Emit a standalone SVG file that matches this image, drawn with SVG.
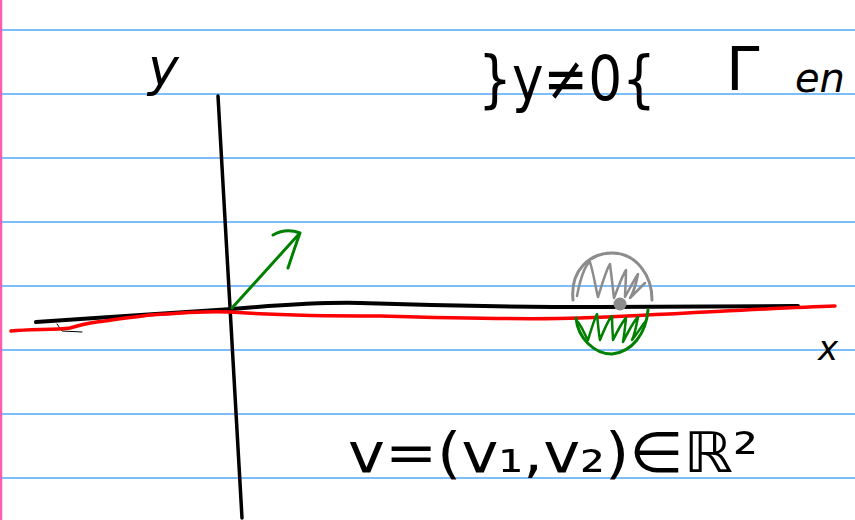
<svg xmlns="http://www.w3.org/2000/svg" width="855" height="520" viewBox="0 0 855 520">
<style>
.rule{stroke:#4fa8f7;stroke-width:1.5}
.ink{fill:none;stroke-linecap:round;stroke-linejoin:round}
.hw{font-family:"DejaVu Sans",sans-serif;fill:#000}
</style>
<rect width="855" height="520" fill="#fff"/>
<g id="paper">
<line class="rule" x1="0" y1="30" x2="855" y2="30"/>
<line class="rule" x1="0" y1="94" x2="855" y2="94"/>
<line class="rule" x1="0" y1="158" x2="855" y2="158"/>
<line class="rule" x1="0" y1="222" x2="855" y2="222"/>
<line class="rule" x1="0" y1="286" x2="855" y2="286"/>
<line class="rule" x1="0" y1="350" x2="855" y2="350"/>
<line class="rule" x1="0" y1="414" x2="855" y2="414"/>
<line class="rule" x1="0" y1="478" x2="855" y2="478"/>
<line x1="1" y1="0" x2="1" y2="520" stroke="#ff5fae" stroke-width="2.5"/>
</g>
<g id="axes">
<path class="ink" stroke="#000" stroke-width="3.5" d="M218 96 C224 200 230 300 233 360 C236 420 240 480 242 518"/>
<path class="ink" stroke="#000" stroke-width="4" d="M36 322 C100 318 180 312 232 309 C280 305 320 302 360 303 C450 306 520 307 600 307 C700 307 760 306 798 306"/>
<path class="ink" stroke="#000" stroke-width="1" d="M57 324 L62 331 L82 332"/>
</g>
<g id="curve">
<path class="ink" stroke="#ff0000" stroke-width="3.5" d="M11 331 C30 329 55 330 70 328 C90 322 110 320 150 315 C190 312 215 311 230 312 C270 315 320 316 380 316 C450 318 520 320 580 318 C680 314 770 308 835 306"/>
</g>
<g id="vector">
<path class="ink" stroke="#008000" stroke-width="3" d="M232 308 L299 234"/>
<path class="ink" stroke="#008000" stroke-width="3" d="M273 235 C282 230 292 230 300 233 C296 244 292 256 288 268"/>
</g>
<g id="upper-half">
<path class="ink" stroke="#8c8c8c" stroke-width="3" d="M573 300 C570 270 590 253 612 253 C636 253 652 275 652 300"/>
<path class="ink" stroke="#8c8c8c" stroke-width="2.5" d="M577 296 C580 280 585 265 590 262 C594 275 596 290 598 297 C602 285 606 270 610 264 C612 280 613 290 614 298 C618 288 622 276 626 270 C626 282 625 292 625 297 C630 288 634 280 638 274 C636 285 632 295 630 298 C636 292 642 286 645 283"/>
<circle cx="620" cy="304" r="6.5" fill="#8c8c8c"/>
</g>
<g id="lower-half">
<path class="ink" stroke="#008000" stroke-width="3" d="M576 318 C578 338 594 354 612 354 C632 352 646 334 648 310"/>
<path class="ink" stroke="#008000" stroke-width="2.5" d="M578 322 C584 330 586 338 588 340 C591 330 594 320 597 314 C598 325 599 335 600 340 C604 330 608 320 612 316 C612 328 613 335 613 340 C618 330 622 322 626 318 C625 328 624 336 623 342 C628 332 633 322 638 317 C636 328 634 336 632 340 C637 334 641 327 645 322"/>
</g>
<g id="labels">
<text class="hw" x="148" y="85" font-size="52" font-style="italic">y</text>
<text class="hw" x="478" y="100" font-size="62" textLength="178" lengthAdjust="spacingAndGlyphs">}y≠0{</text>
<text class="hw" x="726" y="90" font-size="60">Γ</text>
<text class="hw" x="795" y="92" font-size="40" font-style="italic">en</text>
<text class="hw" x="818" y="360" font-size="34" font-style="italic">x</text>
<text class="hw" x="348" y="472" font-size="56" textLength="410" lengthAdjust="spacingAndGlyphs">v=(v₁,v₂)∈ℝ²</text>
</g>
</svg>
